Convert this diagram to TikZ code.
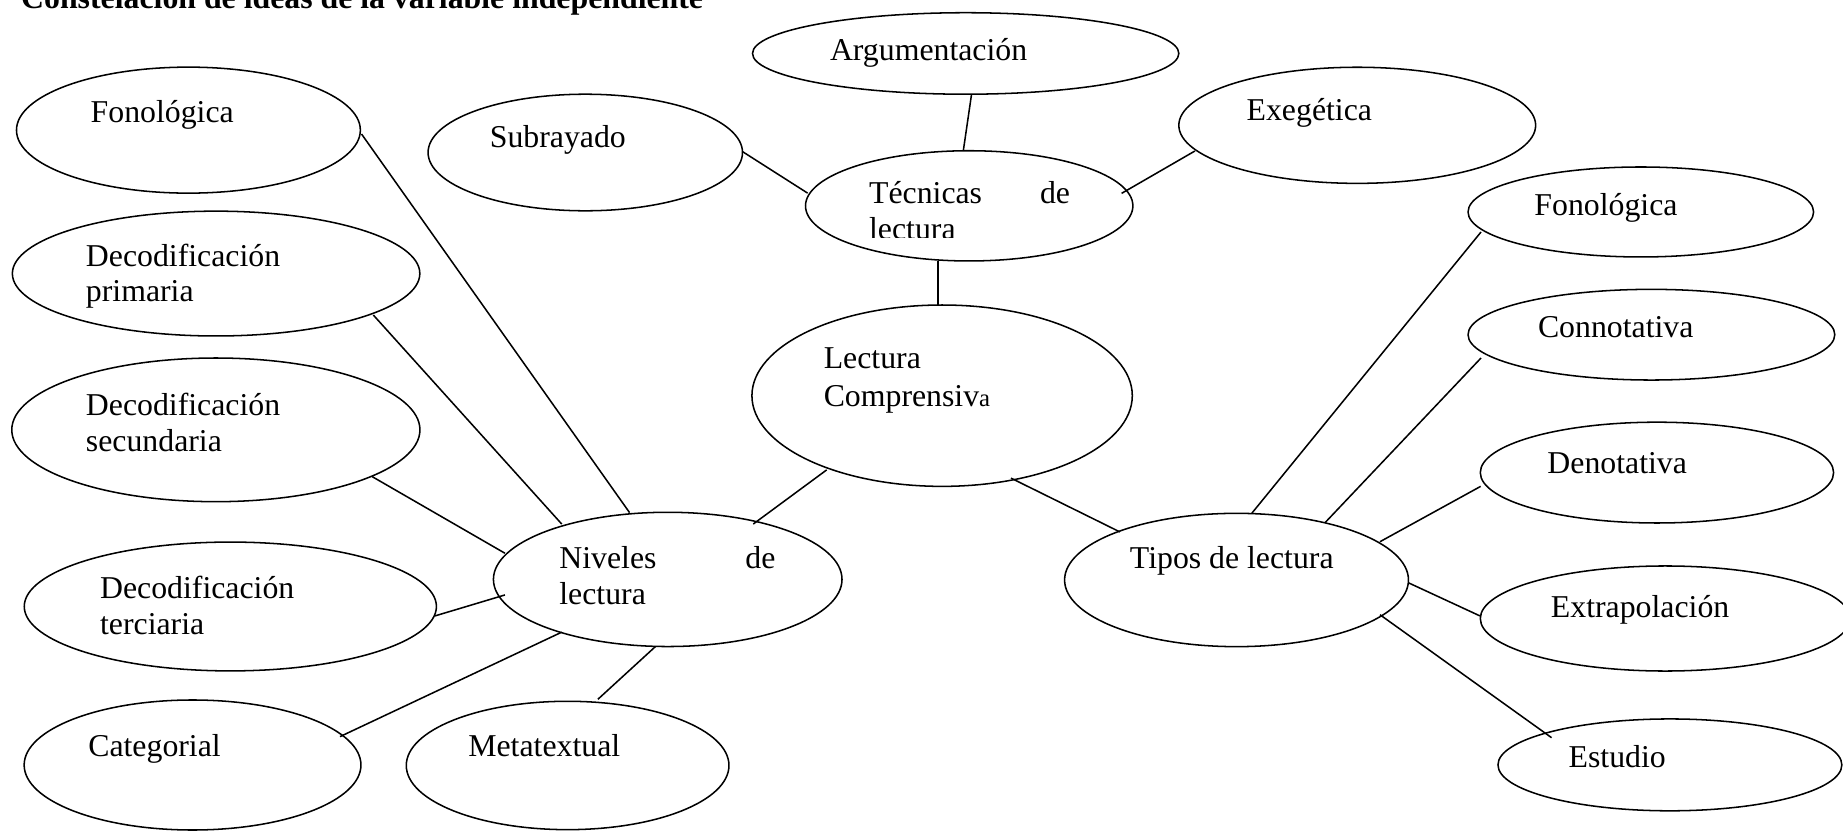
\documentclass[tikz,border=0pt]{standalone}
\usepackage{fontspec}
\setmainfont{Liberation Serif}
\usetikzlibrary{shapes.geometric,calc}
\newcommand\twoline[3]{\vtop{\baselineskip=#1pt\hbox{#2}\hbox{#3}}}
\newcommand\ellnode[5]{\node[ell,minimum width=#4pt,minimum height=#5pt] (#1) at (#2,#3) {};}
\tikzset{
  ell/.style={draw, ellipse, line width=1.3pt, inner sep=0pt, outer sep=0pt},
  lbl/.style={anchor=base west, inner sep=0pt, outer sep=0pt, font=\fontsize{27}{30.6}\selectfont},
  link/.style={line width=1.3pt}
}
\begin{document}
\begin{tikzpicture}[x=1pt,y=-1pt]
\useasboundingbox (0,0) rectangle (1565,706.5);
\fill[white] (0,0) rectangle (1565,706.5);

% title
\node[lbl, font=\fontsize{27}{30}\selectfont\bfseries] (title) at (18,7.5) {Constelación de ideas de la variable independiente};

% ellipses
\ellnode{arg}{820}{45.4}{362}{69.2}
\ellnode{sub}{497}{129.5}{267}{99}
\ellnode{exe}{1152.5}{106.4}{303}{98.6}
\ellnode{tec}{823}{174.8}{278}{93.6}
\ellnode{lec}{800}{336}{323}{154}
\ellnode{niv}{567}{492}{296}{114}
\ellnode{tip}{1050}{492.5}{292}{113.2}
\ellnode{fonoL}{160}{110.5}{292}{107}
\ellnode{decP}{183.5}{232.3}{346}{106}
\ellnode{decS}{183.3}{365}{346.6}{122}
\ellnode{decT}{195.6}{515}{350}{109.4}
\ellnode{cat}{163.5}{649.6}{286}{110.4}
\ellnode{meta}{482}{650}{274}{109}
\ellnode{fonoR}{1393.3}{180}{293.4}{76.4}
\ellnode{connot}{1402.3}{284.2}{311.4}{77}
\ellnode{deno}{1407}{401.3}{300}{85.6}
\ellnode{extra}{1414}{525.2}{314}{89.2}
\ellnode{estu}{1418}{649.5}{292}{78}

% texts
\node[lbl] (argt) at (704.8,51) {Argumentación};
\node[lbl] (subt) at (416,125.4) {Subrayado};
\node[lbl] (exet) at (1058.6,102.7) {Exegética};
\begin{scope}
  \clip (700,130) rectangle (960,202);
  \node[lbl] (tect) at (738,172.4) {\twoline{30.6}{\hbox to 170.6pt{Técnicas\hfil de}}{lectura}};
\end{scope}
\node[lbl] (lect) at (699.5,312.5) {\twoline{32.8}{Lectura}{Comprensiv{\fontsize{21}{21}\selectfont a}}};
\node[lbl] (nivt) at (475,482.6) {\twoline{31}{\hbox to 183.5pt{Niveles\hfil de}}{lectura}};
\node[lbl] (tipt) at (959.5,483) {Tipos de lectura};
\node[lbl] (fonoLt) at (77,104) {Fonológica};
\node[lbl] (decPt) at (73,226) {\twoline{29.8}{Decodificación}{primaria}};
\node[lbl] (decSt) at (73,352.4) {\twoline{30.6}{Decodificación}{secundaria}};
\node[lbl] (decTt) at (85,508) {\twoline{30.4}{Decodificación}{terciaria}};
\node[lbl] (catt) at (75,642.5) {Categorial};
\node[lbl] (metat) at (397.7,642.5) {Metatextual};
\node[lbl] (fonoRt) at (1303,182.6) {Fonológica};
\node[lbl] (connott) at (1306,287) {Connotativa};
\node[lbl] (denot) at (1314,401.7) {Denotativa};
\node[lbl] (extrat) at (1317,524.7) {Extrapolación};
\node[lbl] (estut) at (1332,652) {Estudio};

% connectors
\draw[link] ($(tec)+(-5,-46.8)$) -- ($(arg)+(5,34.6)$);
\draw[link] ($(sub)+(133.6,-0.7)$) -- ($(tec)+(-137.2,-10.8)$);
\draw[link] ($(tec)+(129.4,-10.6)$) -- ($(exe)+(-137.8,21.8)$);
\draw[link] ($(tec)+(-26.4,46.8)$) -- ($(lec)+(-3.4,-77)$);
\draw[link] ($(lec)+(-98,63)$) -- ($(niv)+(72.6,-47)$);
\draw[link] ($(lec)+(58.5,70)$) -- ($(tip)+(-99,-40.8)$);
\draw[link] ($(niv)+(-32.4,-56.7)$) -- ($(fonoL)+(147,3.3)$);
\draw[link] ($(niv)+(-90,-47)$) -- ($(decP)+(133.5,35.2)$);
\draw[link] ($(niv)+(-138.2,-22.2)$) -- ($(decS)+(132.7,39.7)$);
\draw[link] ($(niv)+(-138.2,13.2)$) -- ($(decT)+(173.8,8)$);
\draw[link] ($(niv)+(-90,44.8)$) -- ($(cat)+(125.2,-24.1)$);
\draw[link] ($(niv)+(-10.4,57)$) -- ($(meta)+(25.7,-56.2)$);
\draw[link] ($(tip)+(13,-56.7)$) -- ($(fonoR)+(-135.7,17)$);
\draw[link] ($(tip)+(75,-48.5)$) -- ($(connot)+(-144.7,19.8)$);
\draw[link] ($(tip)+(121.8,-32.5)$) -- ($(deno)+(-149.7,11.7)$);
\draw[link] ($(tip)+(145.8,2.3)$) -- ($(extra)+(-157.3,-2.2)$);
\draw[link] ($(tip)+(121.8,29.5)$) -- ($(estu)+(-100.5,-23.1)$);
\end{tikzpicture}
\end{document}
